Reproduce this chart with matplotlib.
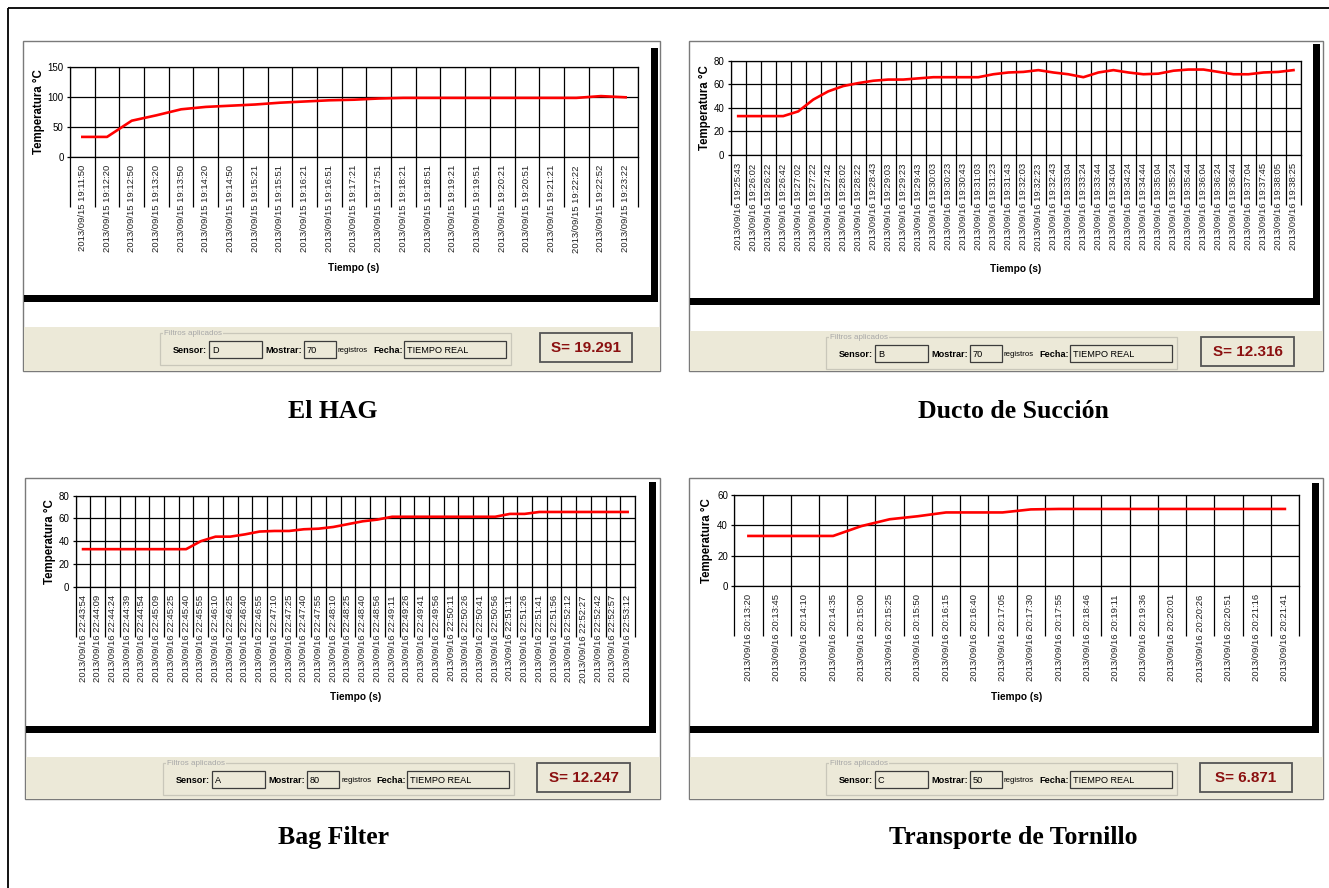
import matplotlib
matplotlib.use('Agg')
import matplotlib.pyplot as plt
from matplotlib.patches import Rectangle
from matplotlib import font_manager
import numpy as np

plt.rcParams['font.family'] = ['Liberation Sans', 'DejaVu Sans']

_names = {f.name for f in font_manager.fontManager.ttflist}
NARROW = ['Liberation Sans Narrow', 'Liberation Sans'] if 'Liberation Sans Narrow' in _names else ['Liberation Sans']

W, H = 1329, 888

# ---------------- data ----------------
hag_times = ['19:11:50', '19:12:20', '19:12:50', '19:13:20', '19:13:50', '19:14:20', '19:14:50',
             '19:15:21', '19:15:51', '19:16:21', '19:16:51', '19:17:21', '19:17:51', '19:18:21',
             '19:18:51', '19:19:21', '19:19:51', '19:20:21', '19:20:51', '19:21:21', '19:22:22',
             '19:22:52', '19:23:22']
hag_temp = [33, 33, 60, 69, 79, 83, 85, 87, 90, 92, 94, 95, 97, 98, 98, 98, 98, 98, 98, 98, 98, 101, 99]

ducto_times = ['19:25:43', '19:26:02', '19:26:22', '19:26:42', '19:27:02', '19:27:22', '19:27:42',
               '19:28:02', '19:28:22', '19:28:43', '19:29:03', '19:29:23', '19:29:43', '19:30:03',
               '19:30:23', '19:30:43', '19:31:03', '19:31:23', '19:31:43', '19:32:03', '19:32:23',
               '19:32:43', '19:33:04', '19:33:24', '19:33:44', '19:34:04', '19:34:24', '19:34:44',
               '19:35:04', '19:35:24', '19:35:44', '19:36:04', '19:36:24', '19:36:44', '19:37:04',
               '19:37:45', '19:38:05', '19:38:25']
ducto_temp = [33, 33, 33, 33, 37, 47, 54, 58.5, 61, 63, 64, 64, 65, 66, 66, 66, 66, 68.5, 70, 70.5,
              72, 70, 68.5, 66, 70, 72, 70, 68.5, 69, 71.5, 72.5, 72.5, 70.5, 68.5, 68.5, 70, 70.5, 72]

bag_times = ['22:43:54', '22:44:09', '22:44:24', '22:44:39', '22:44:54', '22:45:09', '22:45:25',
             '22:45:40', '22:45:55', '22:46:10', '22:46:25', '22:46:40', '22:46:55', '22:47:10',
             '22:47:25', '22:47:40', '22:47:55', '22:48:10', '22:48:25', '22:48:40', '22:48:56',
             '22:49:11', '22:49:26', '22:49:41', '22:49:56', '22:50:11', '22:50:26', '22:50:41',
             '22:50:56', '22:51:11', '22:51:26', '22:51:41', '22:51:56', '22:52:12', '22:52:27',
             '22:52:42', '22:52:57', '22:53:12']
bag_temp = [33, 33, 33, 33, 33, 33, 33, 33, 40, 44, 44, 46, 48.5, 49, 49, 50.5, 51, 52.5, 55, 57.5,
            59, 61.5, 61.5, 61.5, 61.5, 61.5, 61.5, 61.5, 61.5, 64, 64, 65.7, 65.7, 65.7, 65.7,
            65.7, 65.7, 65.7]

tornillo_times = ['20:13:20', '20:13:45', '20:14:10', '20:14:35', '20:15:00', '20:15:25', '20:15:50',
                  '20:16:15', '20:16:40', '20:17:05', '20:17:30', '20:17:55', '20:18:46', '20:19:11',
                  '20:19:36', '20:20:01', '20:20:26', '20:20:51', '20:21:16', '20:21:41']
tornillo_temp = [33, 33, 33, 33, 39.5, 44, 46, 48.5, 48.5, 48.5, 50.5, 50.8, 50.8, 50.8, 50.8,
                 50.8, 50.8, 50.8, 50.8, 50.8]

captions = ['El HAG', 'Ducto de Succión', 'Bag Filter', 'Transporte de Tornillo']
sensors = ['D', 'B', 'A', 'C']
mostrar = ['70', '70', '80', '50']
s_values = ['S= 19.291', 'S= 12.316', 'S= 12.247', 'S= 6.871']
dates = ['2013/09/15', '2013/09/16', '2013/09/16', '2013/09/16']

# ---------------- layout (pixels) ----------------
panels = [
    dict(times=hag_times, temp=hag_temp, ymax=150, ystep=50,
         box=(23, 41, 660, 371), rbar=(651, 48, 658, 302), bbar=(24, 295, 658, 302),
         beige=327, gb=160, sbox=(540, 632), plot=(70, 66.7, 638, 156.7),
         ylx=39, xly=268, cap=(333, 418)),
    dict(times=ducto_times, temp=ducto_temp, ymax=80, ystep=20,
         box=(689, 41, 1323, 371), rbar=(1313, 44, 1320, 305), bbar=(690, 298, 1320, 305),
         beige=331, gb=826, sbox=(1201, 1294), plot=(730.7, 60.7, 1301, 155),
         ylx=705, xly=269, cap=(1013, 418)),
    dict(times=bag_times, temp=bag_temp, ymax=80, ystep=20,
         box=(25, 478, 660, 799), rbar=(649, 482, 656, 733), bbar=(26, 726, 656, 733),
         beige=757, gb=163, sbox=(537, 630), plot=(75.7, 495.7, 635, 586.7),
         ylx=50, xly=697, cap=(334, 844)),
    dict(times=tornillo_times, temp=tornillo_temp, ymax=60, ystep=20,
         box=(689, 478, 1323, 799), rbar=(1312, 483, 1319, 733), bbar=(690, 726, 1319, 733),
         beige=757, gb=826, sbox=(1200, 1292), plot=(734.3, 495, 1299, 586),
         ylx=706.7, xly=697, cap=(1013, 844)),
]

BEIGE = '#ECE9D8'

fig = plt.figure(figsize=(W / 100, H / 100), dpi=100)
bg = fig.add_axes([0, 0, 1, 1], zorder=0)
bg.set_xlim(0, W)
bg.set_ylim(H, 0)
bg.axis('off')


def rect(x0, y0, x1, y1, **kw):
    bg.add_patch(Rectangle((x0, y0), x1 - x0, y1 - y0, **kw))


# outer frame
rect(8, 8, W + 20, H + 20, fill=False, ec='black', lw=1.3)

for i, p in enumerate(panels):
    bx0, by0, bx1, by1 = p['box']
    rect(bx0, by0, bx1, by1, fc='white', ec='#7a7a7a', lw=1.0)
    rect(*p['rbar'], fc='black', ec='none')
    rect(*p['bbar'], fc='black', ec='none')
    bt = p['beige']
    rect(bx0 + 0.5, bt, bx1 - 0.5, by1 - 0.5, fc=BEIGE, ec='none')

    # group box
    g = p['gb']
    rect(g, bt + 6, g + 351, bt + 38, fill=False, ec='#c9c7ba', lw=0.9)
    bg.text(g + 4, bt + 6, 'Filtros aplicados', fontsize=5.8, color='#a8a8a8',
            family=NARROW, ha='left', va='center',
            bbox=dict(fc=BEIGE, ec='none', pad=0.5))
    cy = bt + 23
    lab = dict(fontsize=6.6, fontweight='bold', family=NARROW, ha='right', va='center')
    val = dict(fontsize=6.6, family=NARROW, ha='left', va='center')
    bg.text(g + 47, cy, 'Sensor:', **lab)
    rect(g + 49, bt + 14, g + 102, bt + 31, fill=False, ec='#3c3c3c', lw=0.9)
    bg.text(g + 52, cy, sensors[i], **val)
    bg.text(g + 142, cy, 'Mostrar:', **lab)
    rect(g + 144, bt + 14, g + 176, bt + 31, fill=False, ec='#3c3c3c', lw=0.9)
    bg.text(g + 147, cy, mostrar[i], **val)
    bg.text(g + 178, cy, 'registros', fontsize=5.6, family=NARROW, ha='left', va='center')
    bg.text(g + 243, cy, 'Fecha:', **lab)
    rect(g + 244, bt + 14, g + 346, bt + 31, fill=False, ec='#3c3c3c', lw=0.9)
    bg.text(g + 247, cy, 'TIEMPO REAL', **val)

    # S box
    sx0, sx1 = p['sbox']
    rect(sx0, bt + 6, sx1, bt + 35, fill=False, ec='#555555', lw=1.3)
    bg.text((sx0 + sx1) / 2, bt + 21, s_values[i], fontsize=11, fontweight='bold',
            color='#8b1010', ha='center', va='center')

    # caption
    bg.text(p['cap'][0], p['cap'][1], captions[i], fontsize=18.5, fontweight='bold',
            family='Liberation Serif', ha='center', va='baseline')

    # chart
    l, t, r, b = p['plot']
    ax = fig.add_axes([l / W, 1 - b / H, (r - l) / W, (b - t) / H], zorder=2)
    ax.patch.set_alpha(0)
    n = len(p['temp'])
    x = np.arange(n)
    ax.plot(x, p['temp'], color='#ff0000', lw=1.9, zorder=3)
    ax.set_xlim(-0.5, n - 0.5)
    ax.set_ylim(0, p['ymax'])
    ax.set_yticks(np.arange(0, p['ymax'] + 1, p['ystep']))
    ax.set_xticks(np.arange(n + 1) - 0.5)
    ax.set_xticklabels([])
    ax.set_xticks(x, minor=True)
    ax.set_xticklabels([dates[i] + ' ' + tt for tt in p['times']], minor=True,
                       rotation=90, fontsize=6.8, color='#222222')
    ax.tick_params(axis='x', which='major', length=36, width=0.9, color='black', direction='out')
    ax.tick_params(axis='x', which='minor', length=0, pad=6)
    ax.tick_params(axis='y', length=2.5, width=0.9, pad=2, labelsize=7)
    ax.grid(True, which='major', color='black', lw=0.9)
    for s in ax.spines.values():
        s.set_color('black')
        s.set_linewidth(0.9)
    ax.set_ylabel('Temperatura °C', fontsize=8.3, fontweight='bold', va='center')
    ax.yaxis.set_label_coords((p['ylx'] - l) / (r - l), 0.5)
    ax.set_xlabel('Tiempo (s)', fontsize=7.3, fontweight='bold', va='center')
    ax.xaxis.set_label_coords(0.5, -(p['xly'] - b) / (b - t))

fig.savefig('out.png', dpi=100)
